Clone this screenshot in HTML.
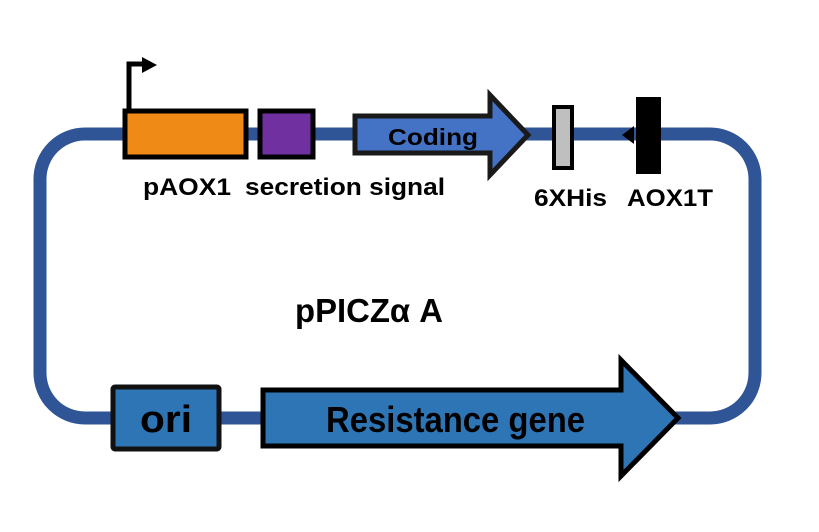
<!DOCTYPE html>
<html><head><meta charset="utf-8"><style>
html,body{margin:0;padding:0;background:#fff;}
svg{display:block;}
text{font-family:"Liberation Sans",sans-serif;font-weight:bold;fill:#000;}
</style></head><body>
<svg width="819" height="532" viewBox="0 0 819 532" xmlns="http://www.w3.org/2000/svg">
<path d="M120 134 H85 A45 45 0 0 0 40 179 V373 A45 45 0 0 0 85 418 H680 M120 134 H710 A45 45 0 0 1 755 179 V373 A45 45 0 0 1 710 418 H670" fill="none" stroke="#2F5597" stroke-width="13"/>
<path d="M129 110 V64 H144" fill="none" stroke="#000" stroke-width="5"/>
<polygon points="142,57 157,65 142,73" fill="#000"/>
<rect x="125" y="111" width="121" height="46" fill="#EF8A17" stroke="#000" stroke-width="5"/>
<rect x="260" y="111" width="53" height="46" fill="#7030A0" stroke="#000" stroke-width="5"/>
<polygon points="355,116 490,116 490,95 528,135 490,175 490,153 355,153" fill="#4472C4" stroke="#1a1a1a" stroke-width="5" stroke-linejoin="miter"/>
<text x="388" y="145" font-size="23" textLength="90" lengthAdjust="spacingAndGlyphs">Coding</text>
<rect x="554" y="107" width="18" height="61" fill="#BFBFBF" stroke="#000" stroke-width="4"/>
<polygon points="622,135 634,126 634,144" fill="#000"/>
<rect x="636" y="97" width="25" height="77" fill="#000"/>
<text x="143" y="195" font-size="24" textLength="88" lengthAdjust="spacingAndGlyphs">pAOX1</text>
<text x="245" y="195" font-size="24" textLength="200" lengthAdjust="spacingAndGlyphs">secretion signal</text>
<text x="534" y="206" font-size="24" textLength="73" lengthAdjust="spacingAndGlyphs">6XHis</text>
<text x="627" y="206" font-size="24" textLength="86" lengthAdjust="spacingAndGlyphs">AOX1T</text>
<text x="295" y="322" font-size="33" textLength="148" lengthAdjust="spacingAndGlyphs">pPICZα A</text>
<rect x="113" y="387" width="106" height="62" fill="#2E75B6" stroke="#111" stroke-width="5" rx="2"/>
<text x="166" y="432" font-size="38" text-anchor="middle" textLength="52" lengthAdjust="spacingAndGlyphs">ori</text>
<polygon points="263,390 621,390 621,360 678,418 621,476 621,446 263,446" fill="#2E75B6" stroke="#000" stroke-width="5"/>
<text x="326" y="432" font-size="36" textLength="259" lengthAdjust="spacingAndGlyphs">Resistance gene</text>
</svg>
</body></html>
